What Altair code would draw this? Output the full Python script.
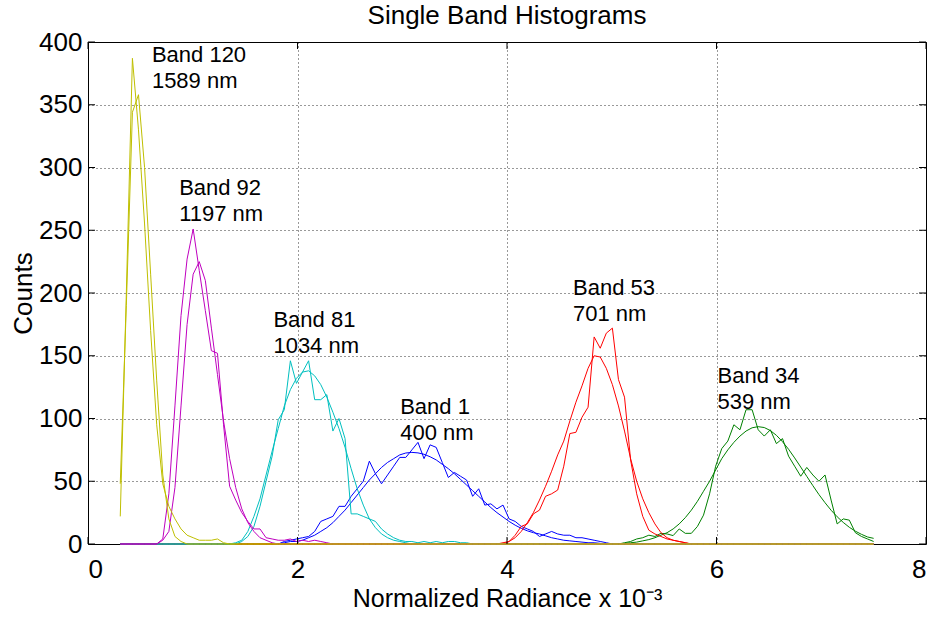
import altair as alt
import pandas as pd

# ---------------- data ----------------
# common histogram bin centres (first centre, spacing, count)
bin_first = 0.308
bin_step = 0.058
n_bins = 125

bands = ["Band 1", "Band 34", "Band 53", "Band 81", "Band 92", "Band 120"]
wavelengths = ["400 nm", "539 nm", "701 nm", "1034 nm", "1197 nm", "1589 nm"]
band_colors = ["#0000ff", "#008000", "#ff0000", "#00bfbf", "#bf00bf", "#bfbf00"]

# index of the first listed bin for each band (all other bins are 0)
band_start_bin = [27, 82, 63, 19, 6, 0]

hist_band1 = [2, 3, 4, 5, 6, 10, 18, 20, 22, 30, 30, 38, 44, 50, 66, 56, 48, 55, 62, 69,
              69, 75, 81, 68, 79, 77, 65, 53, 57, 54, 51, 38, 44, 31, 32, 28, 31, 20, 18, 14,
              12, 10, 6, 8, 10, 8, 7, 7, 5, 5, 4, 3, 2, 1, 0]
fit_band1 = [1, 2, 2, 3, 5, 7, 10, 13, 17, 22, 27, 33, 39, 45, 51, 56, 61, 65, 68, 71,
             72.5, 73, 72.6, 71.5, 69.5, 67, 63.5, 60, 56, 51.5, 47, 42.5, 38, 33.5, 29, 25,
             21.5, 18, 15, 12.5, 10.5, 9, 8, 6.5, 5, 4, 3, 2.5, 2, 1.5, 1, 1, 0.5, 0]

hist_band34 = [0, 1, 2, 4, 5, 7, 6, 8.5, 8, 6.7, 12, 8.5, 8.5, 14, 23, 40, 62, 76, 82, 95,
               91, 107, 107, 91, 86, 91, 80, 84, 70, 62, 54, 61, 55, 50, 55, 35, 16, 20, 19,
               9, 6, 4, 2]
fit_band34 = [0, 0.5, 1, 1.5, 2.5, 3.5, 5, 7, 9, 12, 16, 21, 27, 34, 42, 50, 59, 68, 75,
              81, 86, 90, 92.6, 93.5, 92.8, 90.4, 86.6, 81.5, 75.5, 68.6, 61.3, 53.9, 46.5,
              39.4, 32.9, 26.9, 21.7, 17.2, 13.3, 10.2, 7.7, 5.6, 4.5]

hist_band53 = [0, 2, 7, 14, 16, 24, 27, 38, 40, 43, 62, 88, 89, 101, 109, 165, 156, 168,
               172, 131, 117, 67, 40, 22, 11, 8, 6, 4, 3, 2, 1, 0]
fit_band53 = [1, 2, 5, 10, 17, 25, 35, 46, 58, 71, 82, 98, 113, 126, 140, 150, 149, 140,
              127, 110, 90, 68, 50, 36, 25, 16, 9, 5, 3, 2, 1, 0]

hist_band81 = [0, 2, 6, 14, 30, 50, 70, 99, 107, 146, 128, 137, 146, 115, 115, 119, 90, 100,
               84, 24, 24, 22, 20, 18, 12, 8, 5, 3, 2, 2, 1, 2, 1, 2, 1, 2, 2, 1, 1, 0]
fit_band81 = [1, 3, 10, 22, 36, 55, 74, 92, 110, 123, 132, 137, 138, 134, 127, 117, 105, 92,
              77, 60, 44, 31, 20, 13, 8, 5, 3, 2, 1, 0]

hist_band92 = [0, 4, 40, 110, 182, 227, 251, 218, 186, 154, 152, 95, 46, 35, 25, 18, 12, 12,
               5, 4, 3, 3, 4, 2, 3, 2, 3, 2, 1, 0]
fit_band92 = [0, 3, 10, 45, 110, 175, 215, 225, 210, 172, 135, 98, 68, 45, 28, 17, 10, 5, 3,
              1, 0]

hist_band120 = [22, 200, 387, 330, 255, 170, 95, 48, 30, 20, 12, 7, 5, 3, 3, 3, 4, 1, 0]
fit_band120 = [48, 190, 344, 358, 300, 215, 130, 55, 20, 6, 2, 0]

hist_values = [hist_band1, hist_band34, hist_band53, hist_band81, hist_band92, hist_band120]
fit_values = [fit_band1, fit_band34, fit_band53, fit_band81, fit_band92, fit_band120]

# annotation anchors (first text line; data units)
label_x = [2.98, 6.01, 4.63, 1.77, 0.87, 0.61]
label_y = [109, 134, 204, 178.5, 283.5, 390]

x_tick_values = [0, 2, 4, 6, 8]
y_tick_values = [0, 50, 100, 150, 200, 250, 300, 350, 400]

# ---------------- table ----------------
rows = []
for b, band in enumerate(bands):
    for kind, vals in (("hist", hist_values[b]), ("fit", fit_values[b])):
        full = [0.0] * n_bins
        for i, v in enumerate(vals):
            full[band_start_bin[b] + i] = v
        for j in range(n_bins):
            rows.append({"x": round(bin_first + bin_step * j, 4), "y": full[j],
                         "band": band, "series": band + " " + kind})
df = pd.DataFrame(rows)

ann = pd.DataFrame({"x": label_x, "y": label_y,
                    "text": [b + "\n" + w for b, w in zip(bands, wavelengths)]})
xt = pd.DataFrame({"x": x_tick_values})
yt = pd.DataFrame({"y": y_tick_values})

W, H = 838, 502
FONT = "Liberation Sans"
xs = alt.Scale(domain=[0, 8], nice=False, zero=False)
ys = alt.Scale(domain=[0, 400], nice=False, zero=True)

lines = alt.Chart(df).mark_line(strokeWidth=1).encode(
    x=alt.X("x:Q", scale=xs, axis=alt.Axis(
        values=x_tick_values, format="d", title="Normalized Radiance x 10\u207b\u00b3",
        labelFontSize=26, titleFontSize=25, labelFont=FONT, titleFont=FONT,
        titleFontWeight="normal", labelColor="black", titleColor="black",
        ticks=False, domain=False, grid=True, gridDash=[1, 3], gridColor="black",
        gridOpacity=0.8, labelPadding=12, titlePadding=4)),
    y=alt.Y("y:Q", scale=ys, axis=alt.Axis(
        values=y_tick_values, format="d", title="Counts",
        labelFontSize=26, titleFontSize=26, labelFont=FONT, titleFont=FONT,
        titleFontWeight="normal", labelColor="black", titleColor="black",
        ticks=False, domain=False, grid=True, gridDash=[1, 3], gridColor="black",
        gridOpacity=0.8, labelPadding=6, titlePadding=2)),
    color=alt.Color("band:N", scale=alt.Scale(domain=bands, range=band_colors), legend=None),
    detail="series:N",
)

text = alt.Chart(ann).mark_text(align="left", baseline="middle", fontSize=22, font=FONT,
                                lineBreak="\n", lineHeight=26, color="black").encode(
    x=alt.X("x:Q", scale=xs), y=alt.Y("y:Q", scale=ys), text="text:N")

tk = 7
bot = alt.Chart(xt).mark_rule(color="black").encode(
    x=alt.X("x:Q", scale=xs), y=alt.value(H), y2=alt.value(H - tk))
top = alt.Chart(xt).mark_rule(color="black").encode(
    x=alt.X("x:Q", scale=xs), y=alt.value(0), y2=alt.value(tk))
left = alt.Chart(yt).mark_rule(color="black").encode(
    y=alt.Y("y:Q", scale=ys), x=alt.value(0), x2=alt.value(tk))
right = alt.Chart(yt).mark_rule(color="black").encode(
    y=alt.Y("y:Q", scale=ys), x=alt.value(W), x2=alt.value(W - tk))

chart = alt.layer(lines, bot, top, left, right, text).properties(
    width=W, height=H,
    title=alt.Title("Single Band Histograms", fontSize=26, font=FONT, fontWeight="normal",
                    color="black", anchor="middle", offset=0),
    padding={"left": 88, "top": 42, "right": 10, "bottom": 73},
    autosize=alt.AutoSizeParams(type="none"),
    background="white",
).configure_view(stroke="black", strokeWidth=1)

chart.save("out.html", embed_options={"renderer": "svg", "actions": False})
